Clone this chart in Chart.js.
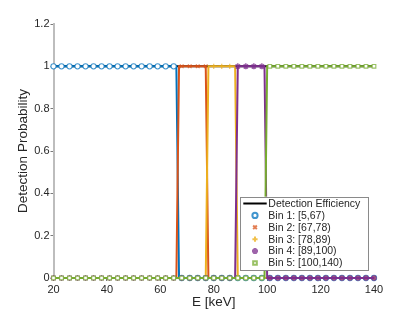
<!DOCTYPE html>
<html>
<head>
<meta charset="utf-8">
<script src="https://cdn.jsdelivr.net/npm/chart.js@4/dist/chart.umd.min.js"></script>
<style>
  html, body { margin: 0; padding: 0; background: #ffffff; }
  #wrap { width: 415px; height: 312px; }
</style>
</head>
<body>
<div id="wrap"><canvas id="c" width="415" height="312"></canvas></div>
<script>
// ---------- data ----------
const xTicks = [20, 40, 60, 80, 100, 120, 140];
const yTicks = [0, 0.2, 0.4, 0.6, 0.8, 1, 1.2];
const yTickLabels = ['0', '0.2', '0.4', '0.6', '0.8', '1', '1.2'];

const legendLabels = ['Detection Efficiency', 'Bin 1: [5,67)', 'Bin 2: [67,78)', 'Bin 3: [78,89)', 'Bin 4: [89,100)', 'Bin 5: [100,140)'];

// marker energies (keV)
const energies = [20,23,26,29,32,35,38,41,44,47,50,53,56,59,62,65,68,71,74,77,80,83,86,89,92,95,98,101,104,107,110,113,116,119,122,125,128,131,134,137,140];
// detection probability at marker energies
const bin1Marks = [1,1,1,1,1,1,1,1,1,1,1,1,1,1,1,1, 0,0,0,0, 0,0,0, 0,0,0,0, 0,0,0,0,0,0,0,0,0,0,0,0,0,0];
const bin2Marks = [0,0,0,0,0,0,0,0,0,0,0,0,0,0,0,0, 1,1,1,1, 0,0,0, 0,0,0,0, 0,0,0,0,0,0,0,0,0,0,0,0,0,0];
const bin3Marks = [0,0,0,0,0,0,0,0,0,0,0,0,0,0,0,0, 0,0,0,0, 1,1,1, 0,0,0,0, 0,0,0,0,0,0,0,0,0,0,0,0,0,0];
const bin4Marks = [0,0,0,0,0,0,0,0,0,0,0,0,0,0,0,0, 0,0,0,0, 0,0,0, 1,1,1,1, 0,0,0,0,0,0,0,0,0,0,0,0,0,0];
const bin5Marks = [0,0,0,0,0,0,0,0,0,0,0,0,0,0,0,0, 0,0,0,0, 0,0,0, 0,0,0,0, 1,1,1,1,1,1,1,1,1,1,1,1,1,1];

// step-line vertices (keV, probability)
const effLineE  = [20, 140];              const effLineP  = [1, 1];
const bin1LineE = [20, 66, 67, 140];      const bin1LineP = [1, 1, 0, 0];
const bin2LineE = [20, 66, 67, 77, 78, 140]; const bin2LineP = [0, 0, 1, 1, 0, 0];
const bin3LineE = [20, 77, 78, 88, 89, 140]; const bin3LineP = [0, 0, 1, 1, 0, 0];
const bin4LineE = [20, 88, 89, 99, 100, 140]; const bin4LineP = [0, 0, 1, 1, 0, 0];
const bin5LineE = [20, 99, 100, 140];     const bin5LineP = [0, 0, 1, 1];

// ---------- styling ----------
const colors = ['#0072BD', '#D95319', '#EDB120', '#7E2F8E', '#77AC30'];
const markerColors = ['rgba(0,114,189,0.75)', 'rgba(217,83,25,0.75)', 'rgba(237,177,32,0.8)', 'rgba(126,47,142,0.75)', 'rgba(119,172,48,0.75)'];
const markerStyles = ['circle', 'crossRot', 'cross', 'star', 'rect'];
const markerFill = ['#ffffff', 'transparent', 'transparent', 'transparent', '#ffffff'];

const lineE = [bin1LineE, bin2LineE, bin3LineE, bin4LineE, bin5LineE];
const lineP = [bin1LineP, bin2LineP, bin3LineP, bin4LineP, bin5LineP];
const marks = [bin1Marks, bin2Marks, bin3Marks, bin4Marks, bin5Marks];

function pts(xs, ys) { return xs.map((x, i) => ({ x: x, y: ys[i] })); }

const datasets = [{
  label: legendLabels[0],
  data: pts(effLineE, effLineP),
  showLine: true, borderColor: '#000000', borderWidth: 2,
  pointRadius: 0, order: 20, clip: false
}];
for (let k = 0; k < 5; k++) {
  datasets.push({
    label: legendLabels[k + 1] + ' line',
    data: pts(lineE[k], lineP[k]),
    showLine: true, borderColor: colors[k], borderWidth: 2,
    pointRadius: 0, order: 2 * (5 - k) + 1, clip: false
  });
  datasets.push({
    label: legendLabels[k + 1],
    data: pts(energies, marks[k]),
    showLine: false,
    pointStyle: markerStyles[k],
    pointRadius: k === 3 ? 3 : 2.6,
    pointBorderWidth: k === 3 ? 1.5 : 1.1,
    pointBorderColor: markerColors[k],
    pointBackgroundColor: markerFill[k],
    order: 2 * (5 - k), clip: false
  });
}

Chart.defaults.font.family = '"Liberation Sans", Arial, Helvetica, sans-serif';
Chart.defaults.color = '#262626';

const legendPlugin = {
  id: 'matlabLegend',
  afterDraw(chart) {
    const ctx = chart.ctx;
    const a = chart.chartArea;
    const x0 = a.right - 134, y0 = a.bottom - 81.3, w = 128.3, h = 73.3;
    ctx.save();
    ctx.fillStyle = '#ffffff';
    ctx.fillRect(x0, y0, w, h);
    ctx.strokeStyle = '#8a8a8a';
    ctx.lineWidth = 1;
    ctx.strokeRect(Math.round(x0) + 0.5, Math.round(y0) + 0.5, Math.round(w), Math.round(h));
    ctx.font = '10.5px "Liberation Sans", Arial, sans-serif';
    ctx.textBaseline = 'middle';
    ctx.textAlign = 'left';
    for (let i = 0; i < legendLabels.length; i++) {
      const cy = y0 + 6.8 + i * 11.9;
      if (i === 0) {
        ctx.strokeStyle = '#000000';
        ctx.lineWidth = 2;
        ctx.beginPath();
        ctx.moveTo(x0 + 3.3, cy);
        ctx.lineTo(x0 + 26.7, cy);
        ctx.stroke();
      } else {
        const k = i - 1;
        ctx.strokeStyle = markerColors[k];
        ctx.fillStyle = markerFill[k];
        Chart.helpers.drawPoint(ctx, {
          pointStyle: markerStyles[k],
          radius: k === 3 ? 3 : 2.6,
          rotation: 0,
          borderWidth: k === 3 ? 1.5 : 1.1
        }, x0 + 15, cy);
      }
      ctx.fillStyle = '#262626';
      ctx.fillText(legendLabels[i], x0 + 28.3, cy + 0.5);
    }
    ctx.restore();
  }
};

new Chart(document.getElementById('c'), {
  type: 'scatter',
  data: { datasets: datasets },
  options: {
    responsive: false,
    animation: false,
    devicePixelRatio: 1,
    events: [],
    layout: { padding: { left: 0, right: 41, top: 24, bottom: 0 } },
    plugins: { legend: { display: false }, tooltip: { enabled: false } },
    scales: {
      x: {
        type: 'linear', min: 20, max: 140,
        afterBuildTicks: s => { s.ticks = xTicks.map(v => ({ value: v })); },
        afterFit: s => { s.height = 34; },
        ticks: { font: { size: 11 }, color: '#262626', padding: 2, maxRotation: 0,
                 callback: v => String(v) },
        grid: { display: true, drawOnChartArea: false, drawTicks: true, tickLength: 3, tickColor: '#7a7a7a', tickWidth: 1 },
        border: { display: true, color: '#bdbdbd', width: 2 },
        title: { display: true, text: 'E [keV]', font: { size: 13.5 }, color: '#262626', padding: { top: 0, bottom: 2 } }
      },
      y: {
        type: 'linear', min: 0, max: 1.2,
        afterBuildTicks: s => { s.ticks = yTicks.map(v => ({ value: v })); },
        afterFit: s => { s.width = 53.5; },
        ticks: { font: { size: 11 }, color: '#262626', padding: 1,
                 callback: (v) => { const i = yTicks.findIndex(t => Math.abs(t - v) < 1e-9); return i >= 0 ? yTickLabels[i] : ''; } },
        grid: { display: true, drawOnChartArea: false, drawTicks: true, tickLength: 3, tickColor: '#7a7a7a', tickWidth: 1 },
        border: { display: true, color: '#bdbdbd', width: 2 },
        title: { display: true, text: 'Detection Probability', font: { size: 13.5 }, color: '#262626', padding: { top: 15, bottom: 0 } }
      }
    }
  },
  plugins: [legendPlugin]
});
</script>
</body>
</html>
